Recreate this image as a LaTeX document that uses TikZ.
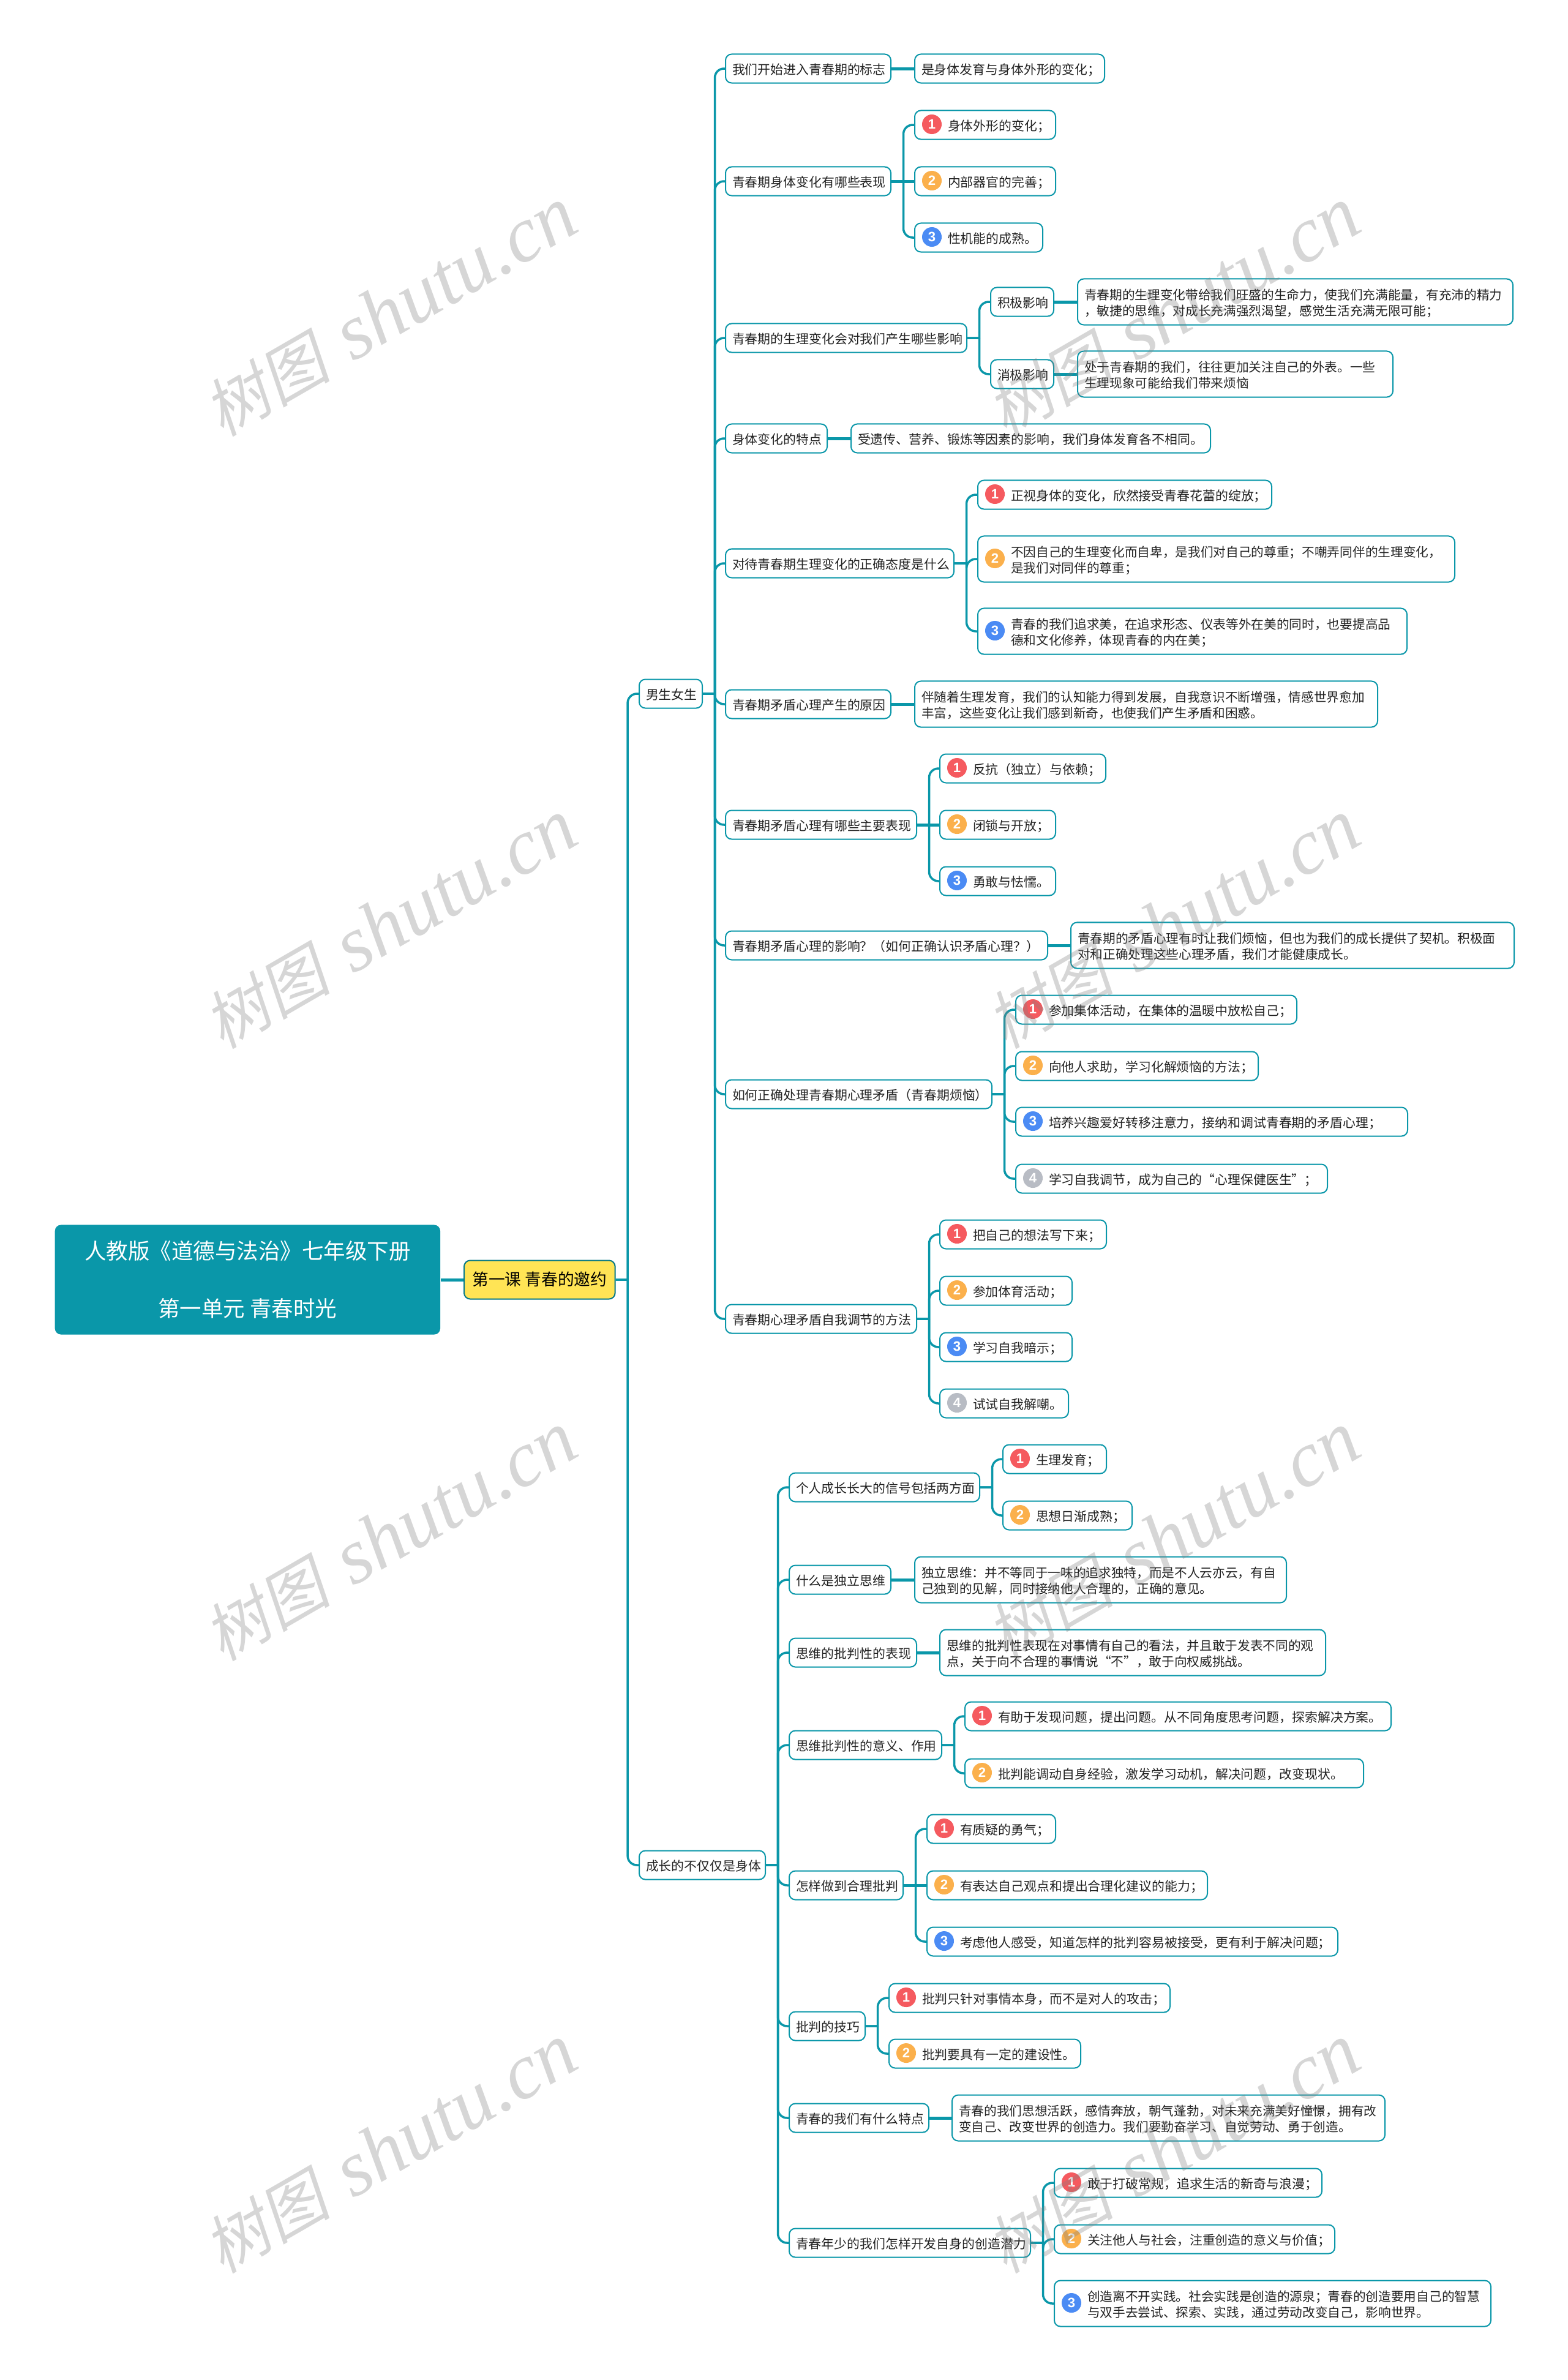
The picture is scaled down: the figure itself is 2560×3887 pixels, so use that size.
\documentclass[tikz,border=0pt]{standalone}
\usepackage{fontspec}
\newfontfamily\cjkfont{Noto Sans CJK SC}
\newfontfamily\slantfont[FakeSlant=0.2]{Noto Sans CJK SC}
\newfontfamily\digitfont{Liberation Sans}
\newfontfamily\markfont{Liberation Serif}
\definecolor{brand}{HTML}{0A97A9}
\definecolor{ink}{HTML}{222222}
\definecolor{sun}{HTML}{FFE455}
\definecolor{tone1}{HTML}{F55A5F}
\definecolor{tone2}{HTML}{FBB04C}
\definecolor{tone3}{HTML}{4B8BF4}
\definecolor{tone4}{HTML}{B8BCC4}
\begin{document}
\begin{tikzpicture}[
    x=0.01cm, y=-0.01cm,
    link/.style={draw=brand, line width=0.035cm, rounded corners=0.15cm},
    straight/.style={draw=brand, line width=0.05cm},
    item/.style={draw=brand, line width=0.02cm, rounded corners=0.1cm, fill=white, anchor=west, inner xsep=0.11cm, inner ysep=0pt, minimum height=0.47cm, text height=6.1pt, align=left, text=ink, font=\cjkfont\fontsize{5.94}{7.4}\selectfont},
    para/.style={item, minimum height=0.75cm, font=\cjkfont\fontsize{5.88}{7.4}\selectfont},
    box/.style={minimum width=#1*0.01cm, text width=(#1-22)*0.01cm},
    numbered/.style={execute at begin node={\leftskip=0.43cm}},
    badge/.style={circle, minimum size=0.32cm, inner sep=0pt, yshift=0.01cm, text=white, font=\digitfont\bfseries\fontsize{6.3}{7}\selectfont},
    wmark/.style={rotate=30, text=gray, opacity=0.32, font=\fontsize{36.6}{40}\selectfont}
]
  \useasboundingbox (0,0) rectangle (2560,3887);
  \fill[white] (0,0) rectangle (2560,3887);
  % root and lesson
  \node[anchor=west, fill=brand, rounded corners=0.1cm, minimum width=6.29cm, minimum height=1.79cm, align=center, text=white, font=\cjkfont\fontsize{10.1}{26.7}\selectfont] (root) at (89,2090) {\raisebox{0.02cm}{人教版《道德与法治》七年级下册}\\\raisebox{0.02cm}{第一单元 青春时光}};
  \node[item, fill=sun, draw=brand!80!black, minimum width=2.465cm, minimum height=0.63cm, align=center, text=black, font=\cjkfont\fontsize{7.6}{9}\selectfont] (lesson) at (757,2090) {第一课 青春的邀约};
  % plain one-line boxes
  \foreach \n/\x/\y/\w/\t in {
    m1/1043/1133/103/男生女生, m2/1043/3046/206/成长的不仅仅是身体,
    a1/1184/112/270/我们开始进入青春期的标志, a1x/1493/112/310/是身体发育与身体外形的变化；,
    a2/1184/296/270/青春期身体变化有哪些表现,
    a3/1184/552/394/青春期的生理变化会对我们产生哪些影响,
    a3y/1617/493/103/积极影响, a3z/1617/611/103/消极影响,
    a4/1184/716/166/身体变化的特点, a4x/1389/716/587/受遗传、营养、锻炼等因素的影响，我们身体发育各不相同。,
    a5/1184/920/373/对待青春期生理变化的正确态度是什么,
    a6/1184/1150/270/青春期矛盾心理产生的原因,
    a7/1184/1347/312/青春期矛盾心理有哪些主要表现,
    a8/1184/1544/526/青春期矛盾心理的影响？（如何正确认识矛盾心理？）,
    a9/1184/1787/435/如何正确处理青春期心理矛盾（青春期烦恼）,
    a10/1184/2154/312/青春期心理矛盾自我调节的方法,
    b1/1288/2429/311/个人成长长大的信号包括两方面,
    b2/1288/2580/166/什么是独立思维,
    b3/1288/2699/208/思维的批判性的表现,
    b4/1288/2850/249/思维批判性的意义、作用,
    b5/1288/3079/186/怎样做到合理批判,
    b6/1288/3309/124/批判的技巧,
    b7/1288/3459/228/青春的我们有什么特点,
    b8/1288/3663/394/青春年少的我们怎样开发自身的创造潜力} {
    \node[item, box=\w] (\n) at (\x,\y) {\t};
  }
  % plain two-line boxes
  \foreach \n/\x/\y/\w/\t in {
    a3yx/1759/493/711/青春期的生理变化带给我们旺盛的生命力，使我们充满能量，有充沛的精力\\，敏捷的思维，对成长充满强烈渴望，感觉生活充满无限可能；,
    a3zx/1759/611/515/处于青春期的我们，往往更加关注自己的外表。一些\\生理现象可能给我们带来烦恼,
    a6x/1493/1150/756/伴随着生理发育，我们的认知能力得到发展，自我意识不断增强，情感世界愈加\\丰富，这些变化让我们感到新奇，也使我们产生矛盾和困惑。,
    a8x/1748/1544/724/青春期的矛盾心理有时让我们烦恼，但也为我们的成长提供了契机。积极面\\对和正确处理这些心理矛盾，我们才能健康成长。,
    b2x/1493/2580/607/独立思维：并不等同于一味的追求独特，而是不人云亦云，有自\\己独到的见解，同时接纳他人合理的，正确的意见。,
    b3x/1534/2699/630/思维的批判性表现在对事情有自己的看法，并且敢于发表不同的观\\点，关于向不合理的事情说“不”，敢于向权威挑战。,
    b7x/1554/3459/707/青春的我们思想活跃，感情奔放，朝气蓬勃，对未来充满美好憧憬，拥有改\\变自己、改变世界的创造力。我们要勤奋学习、自觉劳动、勇于创造。} {
    \node[para, box=\w] (\n) at (\x,\y) {\t};
  }
  % numbered one-line boxes
  \foreach \n/\x/\y/\w/\k/\t in {
    a2x1/1493/204/230/1/身体外形的变化；, a2x2/1493/296/230/2/内部器官的完善；, a2x3/1493/388/209/3/性机能的成熟。,
    a5x1/1596/808/480/1/正视身体的变化，欣然接受青春花蕾的绽放；,
    a7x1/1534/1255/271/1/反抗（独立）与依赖；, a7x2/1534/1347/189/2/闭锁与开放；, a7x3/1534/1439/189/3/勇敢与怯懦。,
    a9x1/1658/1649/459/1/参加集体活动，在集体的温暖中放松自己；,
    a9x2/1658/1741/396/2/向他人求助，学习化解烦恼的方法；,
    a9x3/1658/1832/640/3/培养兴趣爱好转移注意力，接纳和调试青春期的矛盾心理；,
    a9x4/1658/1925/509/4/学习自我调节，成为自己的“心理保健医生”；,
    a10x1/1534/2016/272/1/把自己的想法写下来；, a10x2/1534/2108/216/2/参加体育活动；,
    a10x3/1534/2200/216/3/学习自我暗示；, a10x4/1534/2292/210/4/试试自我解嘲。,
    b1x1/1637/2383/169/1/生理发育；, b1x2/1637/2475/211/2/思想日渐成熟；,
    b4x1/1575/2803/696/1/有助于发现问题，提出问题。从不同角度思考问题，探索解决方案。,
    b4x2/1575/2896/651/2/批判能调动自身经验，激发学习动机，解决问题，改变现状。,
    b5x1/1513/2987/210/1/有质疑的勇气；, b5x2/1513/3079/458/2/有表达自己观点和提出合理化建议的能力；,
    b5x3/1513/3171/671/3/考虑他人感受，知道怎样的批判容易被接受，更有利于解决问题；,
    b6x1/1451/3263/459/1/批判只针对事情本身，而不是对人的攻击；, b6x2/1451/3354/313/2/批判要具有一定的建设性。,
    b8x1/1721/3565/437/1/敢于打破常规，追求生活的新奇与浪漫；, b8x2/1721/3657/458/2/关注他人与社会，注重创造的意义与价值；} {
    \node[item, box=\w, numbered] (\n) at (\x,\y) {\t};
    \node[badge, fill=tone\k] (k\n) at (\x+29,\y) {\k};
  }
  % numbered two-line boxes
  \foreach \n/\x/\y/\w/\k/\t in {
    a5x2/1596/913/779/2/不因自己的生理变化而自卑，是我们对自己的尊重；不嘲弄同伴的生理变化，\\是我们对同伴的尊重；,
    a5x3/1596/1031/701/3/青春的我们追求美，在追求形态、仪表等外在美的同时，也要提高品\\德和文化修养，体现青春的内在美；,
    b8x3/1721/3762/713/3/创造离不开实践。社会实践是创造的源泉；青春的创造要用自己的智慧\\与双手去尝试、探索、实践，通过劳动改变自己，影响世界。} {
    \node[para, box=\w, numbered] (\n) at (\x,\y) {\t};
    \node[badge, fill=tone\k] (k\n) at (\x+29,\y) {\k};
  }
  % connectors
  \foreach \p/\c in {
    root/lesson, a1/a1x, a2/a2x2, a3y/a3yx, a3z/a3zx, a4/a4x, a6/a6x, a7/a7x2, a8/a8x,
    b2/b2x, b3/b3x, b5/b5x2, b7/b7x} {
    \draw[straight] (\p.east) -- (\c.west);
  }
  \foreach \p/\c in {
    lesson/m1, lesson/m2,
    m1/a1, m1/a2, m1/a3, m1/a4, m1/a5, m1/a6, m1/a7, m1/a8, m1/a9, m1/a10,
    m2/b1, m2/b2, m2/b3, m2/b4, m2/b5, m2/b6, m2/b7, m2/b8,
    a2/a2x1, a2/a2x3, a3/a3y, a3/a3z,
    a5/a5x1, a5/a5x2, a5/a5x3, a7/a7x1, a7/a7x3,
    a9/a9x1, a9/a9x2, a9/a9x3, a9/a9x4, a10/a10x1, a10/a10x2, a10/a10x3, a10/a10x4,
    b1/b1x1, b1/b1x2, b4/b4x1, b4/b4x2, b5/b5x1, b5/b5x3,
    b6/b6x1, b6/b6x2, b8/b8x1, b8/b8x2, b8/b8x3} {
    \draw[link] (\p.east) -- ++(19.5,0) (\p.east) ++(19.5,0) |- (\c.west);
  }
  % watermark
  \foreach \i/\x/\y in {1/637/510, 2/1916/510, 3/637/1510, 4/1916/1510, 5/637/2510, 6/1916/2510, 7/637/3510, 8/1916/3510} {
    \node[wmark] (w\i) at (\x,\y) {{\slantfont\fontsize{29.5}{40}\selectfont 树图} {\markfont\itshape shutu.cn}};
  }
\end{tikzpicture}
\end{document}
